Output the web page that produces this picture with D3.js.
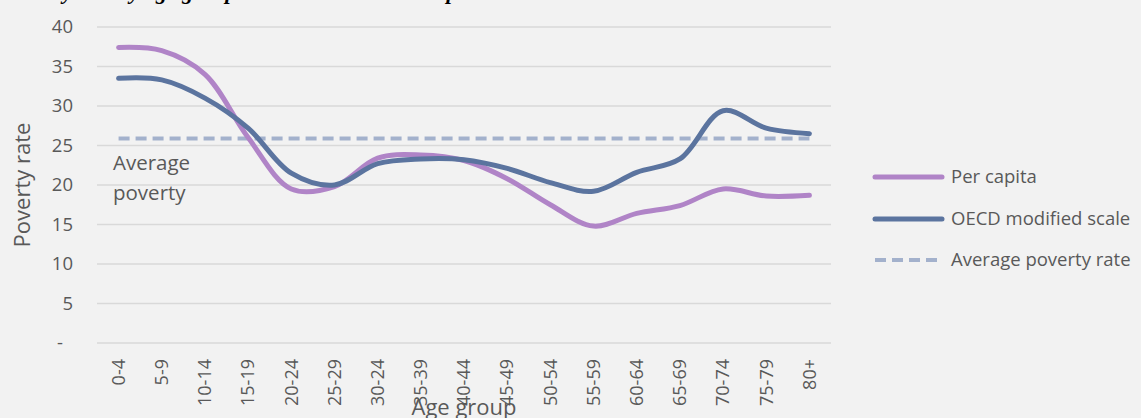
<!DOCTYPE html>
<html><head><meta charset="utf-8">
<script src="https://cdn.jsdelivr.net/npm/d3@7"></script>
<style>
html,body{margin:0;padding:0;background:#F2F2F2;}
svg{display:block;}
text{font-family:"Open Sans",sans-serif;fill:#595959;}
</style></head>
<body>
<svg id="chart" width="1141" height="418"></svg>
<script>
const categories = ["0-4","5-9","10-14","15-19","20-24","25-29","30-24","35-39","40-44","45-49","50-54","55-59","60-64","65-69","70-74","75-79","80+"];
const perCapita = [37.4,37.0,34.0,26.0,19.5,19.8,23.4,23.8,23.1,20.8,17.5,14.8,16.4,17.4,19.5,18.6,18.7];
const oecdScale = [33.5,33.3,31.0,27.2,21.5,20.0,22.7,23.3,23.2,22.1,20.3,19.2,21.6,23.3,29.4,27.2,26.5];
const averagePoverty = [25.9,25.9,25.9,25.9,25.9,25.9,25.9,25.9,25.9,25.9,25.9,25.9,25.9,25.9,25.9,25.9,25.9];
const yTicks = [0,5,10,15,20,25,30,35,40];
const seriesNames = ["Per capita","OECD modified scale","Average poverty rate"];
const titleText = "Poverty rate by age group under two scale assumptions";

const svg = d3.select("#chart");
const pLeft = 97, pRight = 831, pTop = 27, pBottom = 343;

const x = d3.scaleBand().domain(categories).range([pLeft, pRight]);
const y = d3.scaleLinear().domain([0, 40]).range([pBottom, pTop]);
const cx = d => x(d) + x.bandwidth()/2;

// clipped title at top
svg.append("text").attr("x", 4).attr("y", -1)
  .style("font-family", "'Liberation Serif',serif").style("font-style","italic").style("font-weight","bold")
  .style("font-size","22px").style("fill","#000").text(titleText);

// gridlines
svg.append("g").selectAll("line").data(yTicks).join("line")
  .attr("x1", pLeft).attr("x2", pRight)
  .attr("y1", d => y(d)).attr("y2", d => y(d))
  .attr("stroke", "#D9D9D9").attr("stroke-width", 1.5);

// y axis
const yAxis = d3.axisLeft(y).tickValues(yTicks).tickSize(0).tickPadding(24)
  .tickFormat(d => d === 0 ? "-" : d);
const gy = svg.append("g").attr("transform", `translate(${pLeft},0)`).call(yAxis);
gy.select(".domain").remove();
gy.attr("font-family", null).attr("font-size", null);
gy.selectAll("text").style("font-size","18.5px").style("fill","#595959")
  .attr("dx", d => d === 0 ? -10 : 0);

// x axis
const xAxis = d3.axisBottom(x).tickSize(0).tickPadding(0);
const gx = svg.append("g").attr("transform", `translate(0,${pBottom})`).call(xAxis);
gx.select(".domain").remove();
gx.attr("font-family", null).attr("font-size", null);
gx.selectAll("text").style("font-size","18px").style("fill","#595959")
  .attr("transform","rotate(-90)").attr("text-anchor","end")
  .attr("x", -16).attr("y", 0).attr("dy","0.35em");

// axis titles
svg.append("text").attr("transform", `translate(30,${(pTop+pBottom)/2}) rotate(-90)`)
  .attr("text-anchor","middle").style("font-size","22px").text("Poverty rate");
svg.append("text").attr("x", (pLeft+pRight)/2).attr("y", 415)
  .attr("text-anchor","middle").style("font-size","22px").text("Age group");

// lines
const line = d3.line().x((d,i) => cx(categories[i])).y(d => y(d)).curve(d3.curveCatmullRom.alpha(0.5));
const lineStraight = d3.line().x((d,i) => cx(categories[i])).y(d => y(d));

svg.append("path").datum(averagePoverty).attr("d", lineStraight)
  .attr("fill","none").attr("stroke","#A3B1CC").attr("stroke-width",4)
  .attr("stroke-dasharray","11,6");
svg.append("path").datum(perCapita).attr("d", line)
  .attr("fill","none").attr("stroke","#B084C7").attr("stroke-width",5).attr("stroke-linecap","round");
svg.append("path").datum(oecdScale).attr("d", line)
  .attr("fill","none").attr("stroke","#5B749F").attr("stroke-width",5).attr("stroke-linecap","round");

// Average poverty label
svg.append("text").attr("x", 113).attr("y", 170).style("font-size","20.5px").text("Average");
svg.append("text").attr("x", 113).attr("y", 200).style("font-size","20.5px").text("poverty");

// legend
const legY = [177, 219, 260];
const legColors = ["#B084C7","#5B749F","#A3B1CC"];
const lg = svg.append("g");
seriesNames.forEach((name, i) => {
  const l = lg.append("line").attr("x1", 875).attr("x2", 942).attr("y1", legY[i]).attr("y2", legY[i])
    .attr("stroke", legColors[i]).attr("stroke-width", i === 2 ? 4 : 5).attr("stroke-linecap","round");
  if (i === 2) l.attr("stroke-dasharray","11,6").attr("stroke-linecap","butt");
  lg.append("text").attr("x", 951).attr("y", legY[i]).attr("dy","0.35em").style("font-size","18.5px").text(name);
});
</script>
</body></html>
